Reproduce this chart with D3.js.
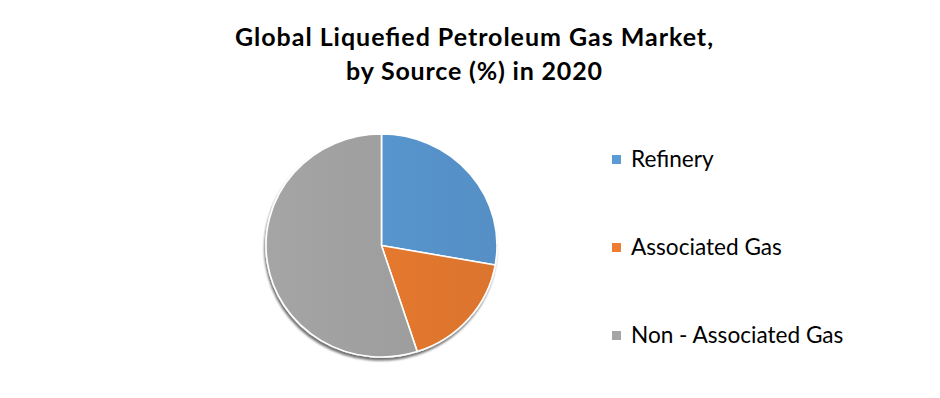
<!DOCTYPE html>
<html lang="en">
<head>
<meta charset="utf-8">
<title>Global Liquefied Petroleum Gas Market, by Source (%) in 2020</title>
<script src="https://cdn.jsdelivr.net/npm/d3@7"></script>
<style>
  body { margin: 0; background: #fff; }
</style>
</head>
<body>
<script>
// data
var categories = ["Refinery", "Associated Gas", "Non - Associated Gas"];
var shares = [27.8, 17.2, 55.0];
var colors = ["#5b9bd5", "#ed7d31", "#a5a5a5"];
var titleLines = ["Global Liquefied Petroleum Gas Market,", "by Source (%) in 2020"];

// layout
var width = 940, height = 398;
var cx = 381.5, cy = 245.5;
var rx = 115.5, ry = 111.5;

var svg = d3.select("body").append("svg")
  .attr("width", width).attr("height", height);

var defs = svg.append("defs");

// soft shadow under the pie
var f = defs.append("filter").attr("id", "shadow")
  .attr("x", "-10%").attr("y", "-10%").attr("width", "120%").attr("height", "125%");
f.append("feDropShadow")
  .attr("dx", -1).attr("dy", 3).attr("stdDeviation", 1.2)
  .attr("flood-color", "#000").attr("flood-opacity", 0.55);

// slight gradients like the office style fills (pie-local coordinates)
colors.forEach(function (c, i) {
  var g = defs.append("linearGradient").attr("id", "grad" + i)
    .attr("gradientUnits", "userSpaceOnUse")
    .attr("x1", -rx).attr("y1", 0).attr("x2", rx).attr("y2", 0);
  g.append("stop").attr("offset", "0%").attr("stop-color", d3.color(c).darker(0.0));
  g.append("stop").attr("offset", "100%").attr("stop-color", d3.color(c).darker(0.22));
});

// title
svg.append("g").selectAll("text")
  .data(titleLines)
  .enter().append("text")
  .attr("x", 474)
  .attr("y", function (d, i) { return 46 + i * 34; })
  .attr("text-anchor", "middle")
  .attr("textLength", function (d, i) { return i === 0 ? 478 : 256; })
  .attr("lengthAdjust", "spacing")
  .style("font-family", "Lato, 'Open Sans', sans-serif")
  .style("font-weight", "bold")
  .style("font-size", "25px")
  .style("fill", "#000")
  .text(function (d) { return d; });

// pie
var pie = d3.pie().sort(null).value(function (d) { return d; });
var arc = d3.arc().innerRadius(0).outerRadius(rx);

var pieG = svg.append("g")
  .attr("transform", "translate(" + cx + "," + cy + ") scale(1," + (ry / rx) + ")")
  .attr("filter", "url(#shadow)");

pieG.selectAll("path")
  .data(pie(shares))
  .enter().append("path")
  .attr("d", arc)
  .attr("fill", function (d, i) { return "url(#grad" + i + ")"; })
  .attr("stroke", "#fff")
  .attr("stroke-width", 1.6)
  .attr("stroke-linejoin", "round");

// legend
var legend = svg.append("g").selectAll("g")
  .data(categories)
  .enter().append("g")
  .attr("transform", function (d, i) { return "translate(612," + (167 + i * 88) + ")"; });

legend.append("rect")
  .attr("x", 0).attr("y", -12)
  .attr("width", 9).attr("height", 9)
  .attr("fill", function (d, i) { return colors[i]; });

legend.append("text")
  .attr("x", 19).attr("y", 0)
  .style("font-family", "Lato, 'Open Sans', sans-serif")
  .style("font-size", "22.6px")
  .style("fill", "#000")
  .text(function (d) { return d; });
</script>
</body>
</html>
